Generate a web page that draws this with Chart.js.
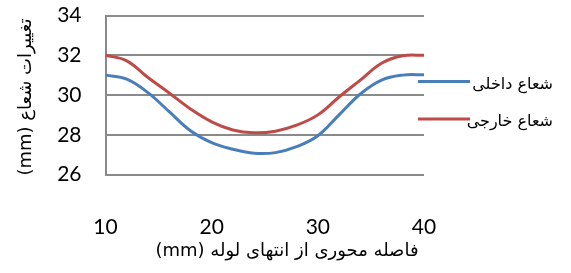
<!DOCTYPE html>
<html>
<head>
<meta charset="utf-8">
<script src="https://cdn.jsdelivr.net/npm/chart.js@4/dist/chart.umd.min.js"></script>
<style>
  html, body { margin: 0; padding: 0; background: #fff; }
  #wrap { width: 571px; height: 273px; position: relative; }
</style>
</head>
<body>
<div id="wrap"><canvas id="radiusChart"></canvas></div>
<script>
// فاصله محوری (mm)
const positions = [10, 12, 14, 16, 18, 20, 22, 24, 26, 28, 30, 32, 34, 36, 38, 40];
// شعاع داخلی
const innerRadius = [31.0, 30.8, 30.12, 29.16, 28.2, 27.6, 27.27, 27.07, 27.1, 27.4, 27.95, 29.0, 30.05, 30.75, 31.0, 31.02];
// شعاع خارجی
const outerRadius = [32.0, 31.72, 30.88, 30.1, 29.3, 28.65, 28.24, 28.1, 28.18, 28.48, 29.0, 29.9, 30.75, 31.6, 31.97, 32.0];

const seriesNames = ['شعاع داخلی', 'شعاع خارجی'];
const seriesColors = ['#4a7ebb', '#be4b48'];
const xTitle = 'فاصله محوری از انتهای لوله (mm)';
const yTitle = 'تغییرات شعاع (mm)';
const xTicks = [10, 20, 30, 40];
const yTicks = [26, 28, 30, 32, 34];

const TICK_FONT = { family: "Lato, 'DejaVu Sans', sans-serif", size: 21 };
const ARABIC_FONT = "'DejaVu Sans', sans-serif";
const GRID = '#8a8a8a';

// عنوان محورها و راهنما را خودمان می‌کشیم تا جایشان مثل نمونه باشد
const sideTexts = {
    id: 'sideTexts',
    afterDraw(chart) {
        const { ctx, chartArea } = chart;
        ctx.save();
        ctx.direction = 'rtl';
        ctx.fillStyle = '#000';
        ctx.textBaseline = 'middle';

        // عنوان محور x
        ctx.font = '18px ' + ARABIC_FONT;
        ctx.textAlign = 'center';
        ctx.fillText(xTitle, 287, 251);

        // عنوان محور y
        ctx.save();
        ctx.translate(26, (chartArea.top + chartArea.bottom) / 2 + 2);
        ctx.rotate(-Math.PI / 2);
        ctx.fillText(yTitle, 0, 0);
        ctx.restore();

        // راهنما
        ctx.font = '16px ' + ARABIC_FONT;
        ctx.textAlign = 'right';
        const rows = [81.5, 119];
        seriesNames.forEach((name, i) => {
            ctx.strokeStyle = seriesColors[i];
            ctx.lineWidth = 3;
            ctx.beginPath();
            ctx.moveTo(418, rows[i]);
            ctx.lineTo(470, rows[i]);
            ctx.stroke();
            ctx.fillText(name, 553, rows[i] + 3);
        });
        ctx.restore();
    }
};

const makeSeries = (values) => positions.map((x, i) => ({ x, y: values[i] }));

new Chart(document.getElementById('radiusChart'), {
    type: 'line',
    data: {
        datasets: [innerRadius, outerRadius].map((vals, i) => ({
            label: seriesNames[i],
            data: makeSeries(vals),
            borderColor: seriesColors[i],
            backgroundColor: seriesColors[i],
            borderWidth: 3,
            pointRadius: 0,
            tension: 0.4,
            fill: false
        }))
    },
    options: {
        responsive: true,
        maintainAspectRatio: false,
        animation: false,
        layout: { padding: { left: 0, right: 147, top: 15.5, bottom: 0 } },
        plugins: {
            legend: { display: false },
            tooltip: { enabled: false }
        },
        scales: {
            x: {
                type: 'linear',
                min: xTicks[0],
                max: xTicks[xTicks.length - 1],
                afterBuildTicks: (s) => { s.ticks = xTicks.map(v => ({ value: v })); },
                afterFit: (s) => { s.height = 98.5; s.paddingLeft = 0; s.paddingRight = 0; },
                grid: { display: false, drawTicks: false },
                border: { display: false },
                ticks: { font: TICK_FONT, color: '#000', padding: 40, maxRotation: 0 }
            },
            y: {
                min: yTicks[0],
                max: yTicks[yTicks.length - 1],
                afterBuildTicks: (s) => { s.ticks = yTicks.map(v => ({ value: v })); },
                afterFit: (s) => { s.width = 105.5; s.paddingTop = 0; s.paddingBottom = 0; },
                grid: { color: GRID, lineWidth: 2, drawTicks: false },
                border: { color: GRID, width: 2 },
                ticks: { font: TICK_FONT, color: '#000', padding: 24 }
            }
        }
    },
    plugins: [sideTexts]
});
</script>
</body>
</html>
